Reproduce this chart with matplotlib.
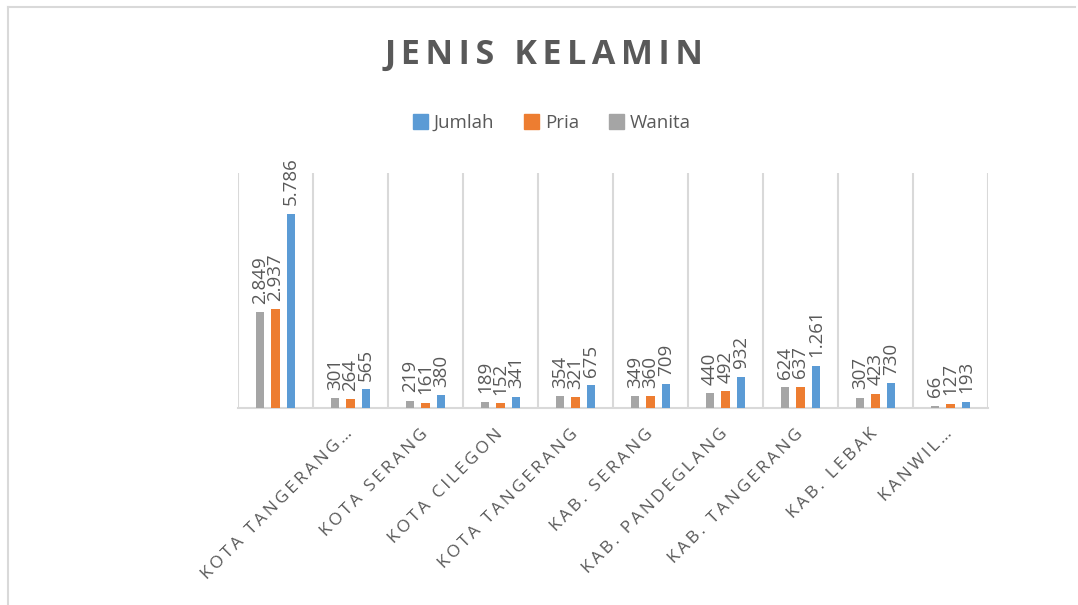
import matplotlib.pyplot as plt
import matplotlib.transforms as mtransforms
import numpy as np
from matplotlib.lines import Line2D

# data
categories = ["", "KOTA TANGERANG\u2026", "KOTA SERANG", "KOTA CILEGON",
              "KOTA TANGERANG", "KAB. SERANG", "KAB. PANDEGLANG",
              "KAB. TANGERANG", "KAB. LEBAK", "KANWIL\u2026"]
wanita = [2849, 301, 219, 189, 354, 349, 440, 624, 307, 66]
pria = [2937, 264, 161, 152, 321, 360, 492, 637, 423, 127]
jumlah = [5786, 565, 380, 341, 675, 709, 932, 1261, 730, 193]

text_col = "#595959"
grid_col = "#D9D9D9"
font = ["Open Sans", "DejaVu Sans"]


def spaced(s, sep="\u2006"):
    # imitate Excel's letter spacing
    return sep.join(s)


fig = plt.figure(figsize=(10.78, 6.05), dpi=100)
ax = fig.add_axes([238 / 1078, 1 - 408 / 605, 750 / 1078, 235 / 605])

x = np.arange(len(categories))
w = 0.107
off = 0.207
series = [(wanita, "#A5A5A5", "Wanita", -off),
          (pria, "#ED7D31", "Pria", 0.0),
          (jumlah, "#5B9BD5", "Jumlah", off)]
for vals, col, name, dx in series:
    bars = ax.bar(x + dx, vals, width=w, color=col, label=name, zorder=3)
    for b, v in zip(bars, vals):
        lab = f"{v:,}".replace(",", ".")
        ax.annotate(lab, (b.get_x() + b.get_width() / 2, v),
                    xytext=(0, 6), textcoords="offset points",
                    rotation=90, ha="center", va="bottom",
                    fontsize=13.5, color=text_col, family=font)

ax.set_xlim(-0.5, len(categories) - 0.5)
ax.set_ylim(0, 7000)
ax.set_yticks([])
ax.set_xticks(x)
ax.tick_params(axis="x", length=0, pad=13)
ax.set_xticklabels([spaced(c) for c in categories], rotation=45,
                   ha="right", va="top", rotation_mode="anchor",
                   fontsize=12.5, color=text_col, family=font)
shift = mtransforms.ScaledTranslation(-6 / 100, 0, fig.dpi_scale_trans)
for t in ax.get_xticklabels():
    t.set_transform(t.get_transform() + shift)

# category separators
for b in np.arange(-0.5, len(categories), 1.0):
    ax.axvline(b, color=grid_col, lw=1.5, zorder=1)
for s in ["top", "right", "left"]:
    ax.spines[s].set_visible(False)
ax.spines["bottom"].set_color(grid_col)
ax.spines["bottom"].set_linewidth(1.5)

fig.text(544 / 1078, 1 - 55 / 605, spaced("JENIS KELAMIN", "\u2006"),
         ha="center", va="center", fontsize=24.5, fontweight="bold",
         color=text_col, family=font)

handles = [plt.Rectangle((0, 0), 1, 1, color=c) for _, c, _, _ in series[::-1]]
names = [n for _, _, n, _ in series[::-1]]
fig.legend(handles, names, loc="center", bbox_to_anchor=(552 / 1078, 1 - 123 / 605),
           ncol=3, frameon=False, handlelength=0.8, handleheight=0.8,
           handletextpad=0.3, columnspacing=1.6,
           prop={"family": font, "size": 13.5}, labelcolor=text_col)

# chart border
fig.add_artist(Line2D([8 / 1078, 8 / 1078], [0, 1 - 7 / 605],
                      transform=fig.transFigure, color=grid_col, lw=1.5))
fig.add_artist(Line2D([8 / 1078, 1075 / 1078], [1 - 7 / 605, 1 - 7 / 605],
                      transform=fig.transFigure, color=grid_col, lw=1.5))

fig.savefig("out.png", dpi=100)
